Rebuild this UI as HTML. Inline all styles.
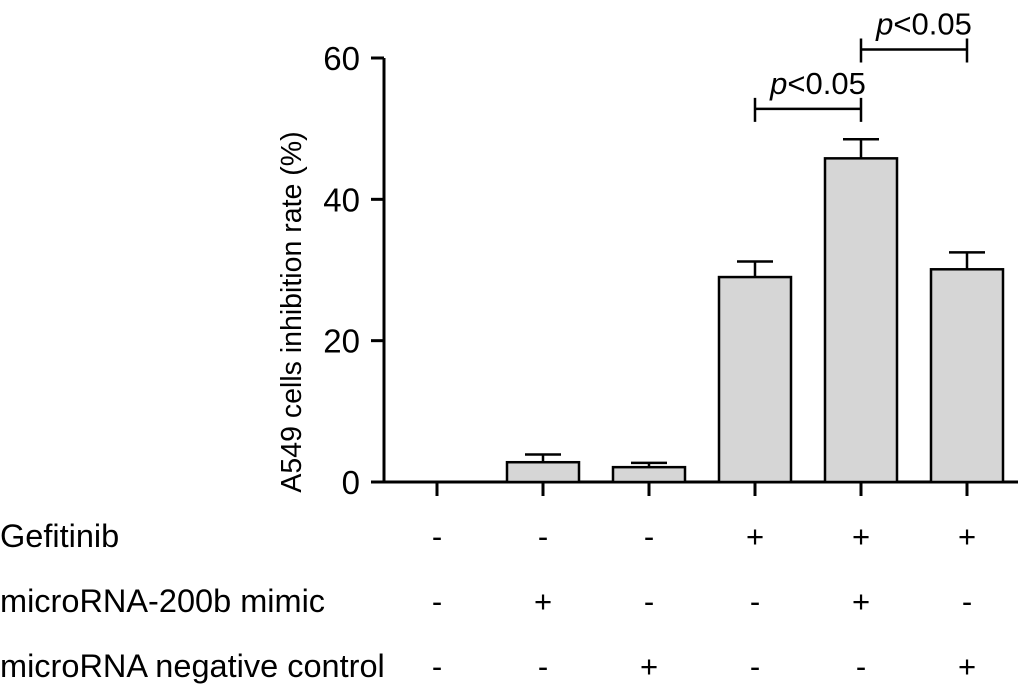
<!DOCTYPE html>
<html><head><meta charset="utf-8"><style>
body{margin:0;background:#fff}
svg text{font-family:"Liberation Sans",Arial,sans-serif;fill:#000}
</style></head><body>
<svg width="1020" height="689" id="c">
<text x="0" y="0" font-size="28.5" text-anchor="middle" transform="translate(301,312) rotate(-90)">A549 cells inhibition rate (%)</text>
<g id="g"></g>
</svg>
<script>
const values=[0,2.8,2.1,29.0,45.8,30.1];
const errors=[0,1.1,0.6,2.2,2.7,2.4];
const yTicks=[0,20,40,60];
const gef=['-','-','-','+','+','+'];
const mimic=['-','+','-','-','+','-'];
const nc=['-','-','+','-','-','+'];
const rowLabels=['Gefitinib','microRNA-200b mimic','microRNA negative control'];
const sig=[[3,4,'p<0.05',52.8],[4,5,'p<0.05',61.2]];
const ns='http://www.w3.org/2000/svg',g=document.getElementById('g');
const y0=482,k=424/60,xL=384,xR=1018;
const Y=v=>y0-v*k, X=i=>437+i*106;
function el(t,a,p){const e=document.createElementNS(ns,t);for(const q in a)e.setAttribute(q,a[q]);(p||g).appendChild(e);return e;}
let ax=el('path',{d:`M${xL},${Y(60)}V${y0}M371,${y0}H${xR}`,stroke:'#000','stroke-width':3,fill:'none'});


yTicks.forEach(v=>{
 let t=el('path',{d:`M371,${Y(v)}H${xL}`,stroke:'#000','stroke-width':3});
 
 
 let l=el('text',{x:360,y:Y(v)+12,'font-size':33,'text-anchor':'end'});l.textContent=v;
 
 
});
values.forEach((v,i)=>{
 const x=X(i);
 let t=el('path',{d:`M${x},${y0}V496`,stroke:'#000','stroke-width':3});
 
 
 if(v>0){
  let e=el('path',{d:`M${x},${Y(v)}V${Y(v+errors[i])}M${x-18},${Y(v+errors[i])}H${x+18}`,stroke:'#000','stroke-width':2.5,fill:'none'});
  
  
  let b=el('rect',{x:x-36,y:Y(v),width:72,height:y0-Y(v),fill:'#d6d6d6',stroke:'#000','stroke-width':2.5});
  
  
 }
});
[gef,mimic,nc].forEach((row,r)=>{
 const yy=547+r*65;
 let l=el('text',{x:0,y:yy,'font-size':32.5});l.textContent=rowLabels[r];
 
 
 row.forEach((s,i)=>{let t=el('text',{x:X(i),y:yy,'font-size':31,'text-anchor':'middle'});t.textContent=s;
  
  });
});
sig.forEach(s=>{
 const a=X(s[0]),b=X(s[1]),yy=Y(s[3]);
 let p=el('path',{d:`M${a},${yy+13}V${yy-11}M${a},${yy}H${b}M${b},${yy+13}V${yy-11}`,stroke:'#000','stroke-width':2.5,fill:'none'});
 
 
 let t=el('text',{x:(a+b)/2+10,y:yy-15,'font-size':31,'text-anchor':'middle'});
 t.innerHTML='<tspan font-style="italic">p</tspan>&lt;0.05';
 
 
});
</script>
</body></html>
